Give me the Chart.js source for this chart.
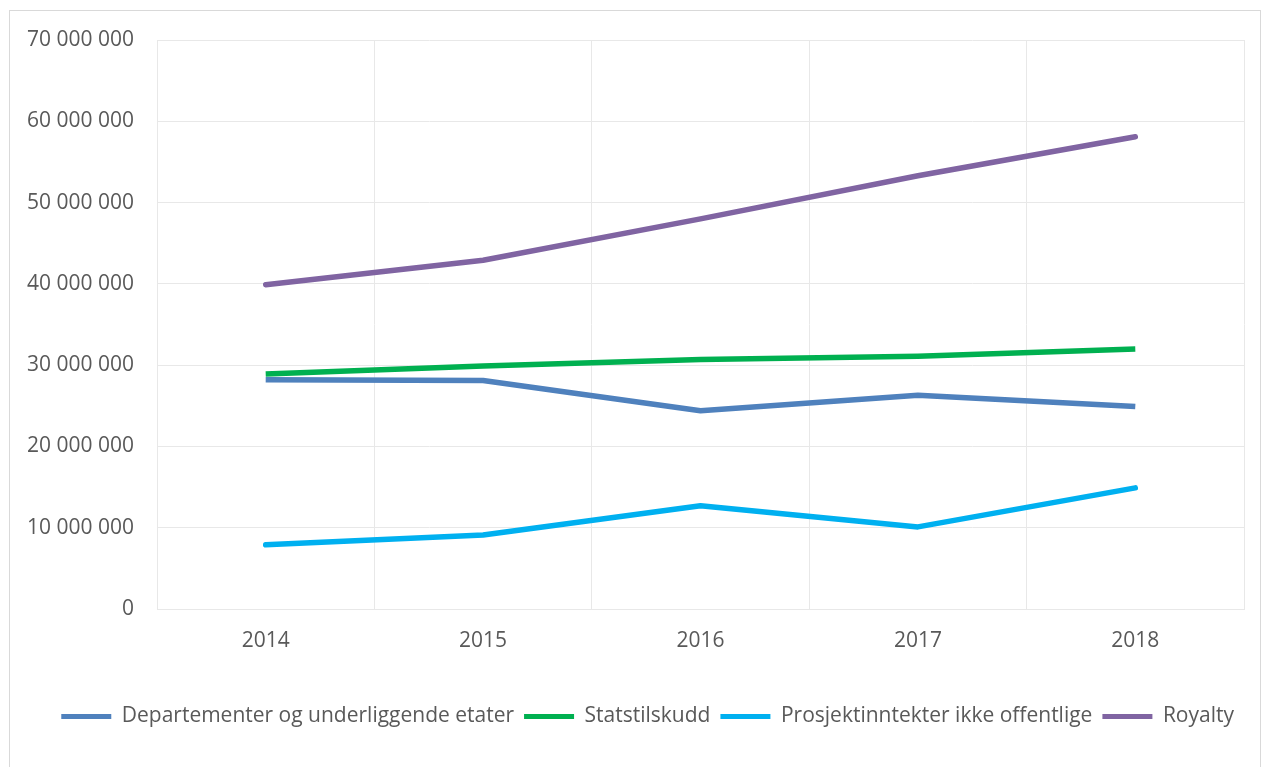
<!DOCTYPE html>
<html>
<head>
<meta charset="utf-8">
<script src="https://cdn.jsdelivr.net/npm/chart.js@4"></script>
<style>
  html, body { margin: 0; padding: 0; background: #fff; overflow: hidden; }
  #frame {
    position: absolute; left: 9px; top: 10px; width: 1252px; height: 760px;
    border: 1px solid #d9d9d9; box-sizing: border-box;
  }
  #wrap { position: absolute; left: 0; top: 0; width: 1250px; height: 740px; }
</style>
</head>
<body>
<div id="frame"><div id="wrap"><canvas id="lineChart"></canvas></div></div>
<script>
const years = ['2014', '2015', '2016', '2017', '2018'];
const departementer = [28200000, 28100000, 24400000, 26300000, 24900000];
const statstilskudd = [28900000, 29900000, 30700000, 31100000, 32000000];
const prosjektinntekter = [7900000, 9100000, 12700000, 10100000, 14900000];
const royalty = [39900000, 42900000, 48000000, 53300000, 58100000];

const fontFamily = '"Open Sans", "Liberation Sans", sans-serif';
const textColor = '#595959';
const gridColor = '#e8e8e8';

function fmt(v) {
    return String(v).replace(/\B(?=(\d{3})+(?!\d))/g, ' ');
}

function series(label, data, color, cap) {
    return {
        label: label,
        data: data,
        borderColor: color,
        backgroundColor: color,
        borderWidth: 5.5,
        borderCapStyle: cap,
        borderJoinStyle: 'round',
        pointRadius: 0,
        pointHoverRadius: 0,
        tension: 0,
        fill: false
    };
}

const ctxLine = document.getElementById('lineChart');
new Chart(ctxLine, {
    type: 'line',
    data: {
        labels: years,
        datasets: [
            series('Departementer og underliggende etater', departementer, '#4f81bd', 'butt'),
            series('Statstilskudd', statstilskudd, '#00b050', 'butt'),
            series('Prosjektinntekter ikke offentlige', prosjektinntekter, '#00b0f0', 'round'),
            series('Royalty', royalty, '#8064a2', 'round')
        ]
    },
    options: {
        responsive: true,
        maintainAspectRatio: false,
        animation: false,
        layout: { padding: { left: 0, right: 16, top: 29, bottom: 14 } },
        plugins: {
            tooltip: { enabled: false },
            legend: {
                position: 'bottom',
                align: 'end',
                labels: {
                    color: textColor,
                    font: { family: fontFamily, size: 21 },
                    boxWidth: 50,
                    boxHeight: 5,
                    padding: 10,
                    generateLabels: function (chart) {
                        const items = Chart.defaults.plugins.legend.labels.generateLabels(chart);
                        items.forEach(function (it) {
                            it.lineWidth = 0;
                            it.fillStyle = it.strokeStyle;
                        });
                        return items;
                    }
                }
            }
        },
        scales: {
            x: {
                offset: true,
                grid: { offset: true, color: gridColor, drawTicks: false },
                border: { color: gridColor },
                ticks: { color: textColor, font: { family: fontFamily, size: 21 }, padding: 19 },
                afterFit: function (scale) { scale.height = 87; }
            },
            y: {
                min: 0,
                max: 70000000,
                grid: { color: gridColor, drawTicks: false },
                border: { color: gridColor },
                ticks: {
                    stepSize: 10000000,
                    color: textColor,
                    font: { family: fontFamily, size: 21 },
                    padding: 23,
                    callback: function (v) { return fmt(v); }
                },
                afterFit: function (scale) {
                    scale.width = 147;
                    scale.paddingTop = 0;
                    scale.paddingBottom = 0;
                }
            }
        }
    }
});
</script>
</body>
</html>
